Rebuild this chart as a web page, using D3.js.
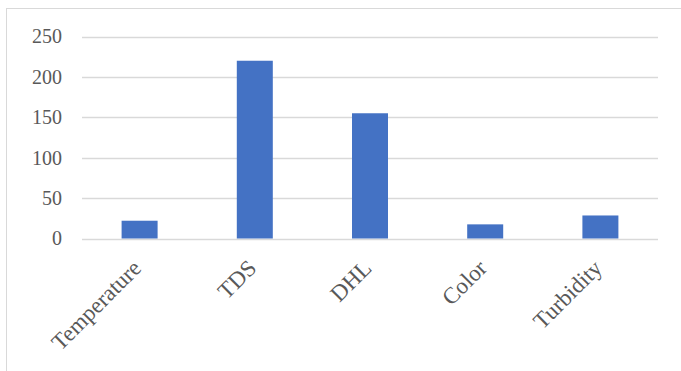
<!DOCTYPE html>
<html>
<head>
<meta charset="utf-8">
<script src="https://cdn.jsdelivr.net/npm/d3@7"></script>
<style>
  html, body { margin: 0; padding: 0; background: #fff; }
  svg { display: block; }
</style>
</head>
<body>
<svg id="chart" width="681" height="371"></svg>
<script>
// Water quality parameters and their measured values
const categories = ["Temperature", "TDS", "DHL", "Color", "Turbidity"];
const values = [22, 220, 155, 17.5, 28.5];
const yTicks = [0, 50, 100, 150, 200, 250];

const svg = d3.select("#chart");
const W = 681, H = 371;
const margin = { left: 82, right: 23, top: 36.5, bottom: 132.5 };
const font = "'Liberation Serif', 'Times New Roman', serif";

// Chart area frame (left and top edges visible)
svg.append("rect")
  .attr("x", 6.5).attr("y", 8.5)
  .attr("width", W).attr("height", H)
  .attr("fill", "none").attr("stroke", "#d9d9d9").attr("stroke-width", 1);

const x = d3.scaleBand()
  .domain(categories)
  .range([margin.left, W - margin.right])
  .paddingInner(0.6875)
  .paddingOuter(0.34375);

const y = d3.scaleLinear()
  .domain([0, 250])
  .range([H - margin.bottom, margin.top]);

// Horizontal gridlines
svg.append("g")
  .selectAll("line")
  .data(yTicks)
  .join("line")
  .attr("x1", margin.left).attr("x2", W - margin.right)
  .attr("y1", d => Math.round(y(d)) + 0.5).attr("y2", d => Math.round(y(d)) + 0.5)
  .attr("stroke", "#d9d9d9").attr("stroke-width", 1.5);

// Y axis labels
const yAxis = d3.axisLeft(y).tickValues(yTicks).tickSize(0).tickPadding(20);
const gy = svg.append("g")
  .attr("transform", `translate(${margin.left},0)`)
  .call(yAxis);
gy.select(".domain").remove();
gy.selectAll("text")
  .attr("font-family", font).attr("font-size", 20)
  .attr("fill", "#595959");

// Bars
svg.append("g")
  .selectAll("rect")
  .data(categories.map((c, i) => ({ c, v: values[i] })))
  .join("rect")
  .attr("x", d => x(d.c))
  .attr("width", x.bandwidth())
  .attr("y", d => y(d.v))
  .attr("height", d => y(0) - y(d.v))
  .attr("fill", "#4472c4");

// Category labels, rotated 45 degrees
const xAxis = d3.axisBottom(x).tickSize(0).tickPadding(0);
const gx = svg.append("g")
  .attr("transform", `translate(0,${y(0)})`)
  .call(xAxis);
gx.select(".domain").remove();
gx.selectAll("text")
  .attr("font-family", font).attr("font-size", 23)
  .attr("fill", "#595959")
  .attr("text-anchor", "end")
  .attr("dy", 0)
  .attr("transform", "translate(3,31) rotate(-45)");
</script>
</body>
</html>
